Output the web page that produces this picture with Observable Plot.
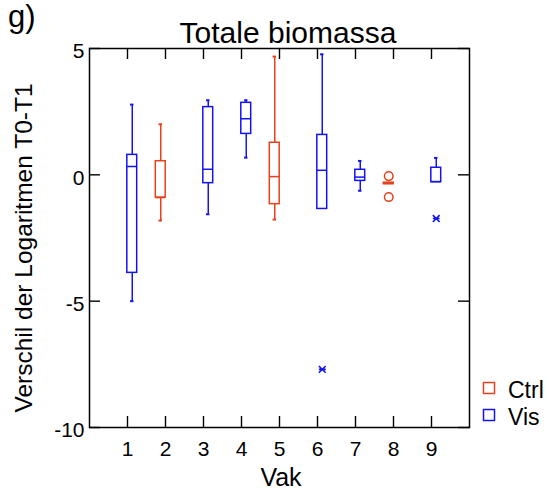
<!DOCTYPE html>
<html>
<head>
<meta charset="utf-8">
<script src="https://cdn.jsdelivr.net/npm/d3@7"></script>
<script src="https://cdn.jsdelivr.net/npm/@observablehq/plot@0.6"></script>
<style>
  html, body { margin: 0; padding: 0; background: #fff; }
  #chart svg { display: block; font-family: "Liberation Sans", Arial, sans-serif; }
</style>
</head>
<body>
<div id="chart"></div>
<script>
// ---- data ----
const vak         = [1, 2, 3, 4, 5, 6, 7, 8, 9];
const group       = ["Vis", "Ctrl", "Vis", "Vis", "Ctrl", "Vis", "Vis", "Ctrl", "Vis"];
const whiskerLow  = [-5.00, -1.81, -1.56, 0.68, -1.77, -1.35, -0.63, -0.37, -0.29];
const q1          = [-3.88, -0.90, -0.33, 1.62, -1.16, -1.35, -0.24, -0.37, -0.29];
const median      = [ 0.33, -0.90,  0.22, 2.22, -0.07,  0.18, -0.09, -0.34, -0.27];
const q3          = [ 0.79,  0.54,  2.68, 2.85,  1.27,  1.58,  0.20, -0.31,  0.28];
const whiskerHigh = [ 2.78,  2.00,  2.95, 2.95,  4.68,  4.77,  0.55, -0.31,  0.67];

const outlierVak   = [6, 8, 8, 9];
const outlierGroup = ["Vis", "Ctrl", "Ctrl", "Vis"];
const outlierValue = [-7.70, -0.05, -0.88, -1.73];

const yTicks = [-10, -5, 0, 5];
const xTicks = [1, 2, 3, 4, 5, 6, 7, 8, 9];
const legendLabels = ["Ctrl", "Vis"];
const groupColors = {Ctrl: "#e8401c", Vis: "#1414f0"};

const title = "Totale biomassa";
const panelLabel = "g)";
const xLabel = "Vak";
const yLabel = "Verschil der Logaritmen T0-T1";

// ---- build table ----
const offset = {Ctrl: -0.125, Vis: 0.125};
const halfBox = 0.13, halfCap = 0.045;
const boxes = vak.map((v, i) => ({
  vak: v, group: group[i], xc: v + offset[group[i]],
  lo: whiskerLow[i], q1: q1[i], med: median[i], q3: q3[i], hi: whiskerHigh[i]
}));
const outliers = outlierVak.map((v, i) => ({
  vak: v, group: outlierGroup[i], xc: v + offset[outlierGroup[i]], value: outlierValue[i]
}));

// star symbol: X with a horizontal bar
const starSymbol = {
  draw(ctx, size) {
    const r = Math.sqrt(size / Math.PI);
    ctx.moveTo(-r, -r); ctx.lineTo(r, r);
    ctx.moveTo(-r, r); ctx.lineTo(r, -r);
    ctx.moveTo(-r, 0); ctx.lineTo(r, 0);
  }
};

const W = 549, H = 493;
const mL = 89, mR = 80, mT = 48, mB = 66;
const pw = W - mL - mR, ph = H - mT - mB;
const tickLen = 11;
const col = d => groupColors[d.group];

const chart = Plot.plot({
  width: W, height: H,
  marginLeft: mL, marginRight: mR, marginTop: mT, marginBottom: mB,
  style: {fontFamily: "Liberation Sans, Arial, sans-serif", background: "#fff", fontSize: "21px"},
  x: {domain: [0, 10], axis: null},
  y: {domain: [-10, 5], axis: null},
  marks: [
    // inward ticks on four sides
    Plot.ruleY(yTicks, {y: d => d, insetRight: pw - tickLen, stroke: "#000", strokeWidth: 1.4}),
    Plot.ruleY(yTicks, {y: d => d, insetLeft: pw - tickLen, stroke: "#000", strokeWidth: 1.4}),
    Plot.ruleX(xTicks, {x: d => d, insetBottom: ph - tickLen, stroke: "#000", strokeWidth: 1.4}),
    Plot.ruleX(xTicks, {x: d => d, insetTop: ph - tickLen, stroke: "#000", strokeWidth: 1.4}),
    Plot.frame({stroke: "#000", strokeWidth: 1.5}),
    // tick labels
    Plot.axisY(yTicks, {tickSize: 0, tickPadding: 5, fontSize: 21, dy: 3, label: null, tickFormat: d => String(d), fill: "#000"}),
    Plot.axisX(xTicks, {tickSize: 0, tickPadding: 14, fontSize: 21, label: null, tickFormat: d => String(d), fill: "#000"}),
    // whiskers
    Plot.ruleX(boxes.filter(d => d.hi > d.q3), {x: "xc", y1: "q3", y2: "hi", stroke: col, strokeWidth: 1.5}),
    Plot.ruleX(boxes.filter(d => d.lo < d.q1), {x: "xc", y1: "lo", y2: "q1", stroke: col, strokeWidth: 1.5}),
    Plot.ruleY(boxes.filter(d => d.hi > d.q3), {y: "hi", x1: d => d.xc - halfCap, x2: d => d.xc + halfCap, stroke: col, strokeWidth: 2}),
    Plot.ruleY(boxes.filter(d => d.lo < d.q1), {y: "lo", x1: d => d.xc - halfCap, x2: d => d.xc + halfCap, stroke: col, strokeWidth: 2}),
    // boxes
    Plot.rect(boxes, {x1: d => d.xc - halfBox, x2: d => d.xc + halfBox, y1: "q1", y2: "q3", fill: "none", stroke: col, strokeWidth: 1.5}),
    // medians
    Plot.ruleY(boxes, {y: "med", x1: d => d.xc - halfBox, x2: d => d.xc + halfBox, stroke: col, strokeWidth: 1.5}),
    // outliers
    Plot.dot(outliers.filter(d => d.group === "Ctrl"), {x: "xc", y: "value", r: 4.3, symbol: "circle", fill: "none", stroke: col, strokeWidth: 1.5}),
    Plot.dot(outliers.filter(d => d.group === "Vis"), {x: "xc", y: "value", r: 3.4, symbol: starSymbol, fill: "none", stroke: col, strokeWidth: 1.6})
  ]
});

// annotations
const svg = d3.select(chart);
const font = "Liberation Sans, Arial, sans-serif";
svg.append("text").attr("x", 8).attr("y", 27).attr("text-anchor", "start").attr("font-size", 31).attr("font-family", font).attr("fill", "#000").text(panelLabel);
svg.append("text").attr("x", 288).attr("y", 43).attr("text-anchor", "middle").attr("font-size", 30).attr("font-family", font).attr("fill", "#000").text(title);
svg.append("text").attr("x", mL + pw / 2 + 2).attr("y", 486).attr("text-anchor", "middle").attr("font-size", 25).attr("font-family", font).attr("fill", "#000").text(xLabel);
svg.append("text").attr("transform", "translate(32,248) rotate(-90)").attr("text-anchor", "middle").attr("font-size", 24.5).attr("font-family", font).attr("fill", "#000").text(yLabel);

const lg = svg.append("g");
legendLabels.forEach((lab, i) => {
  const y0 = 382 + i * 27;
  lg.append("rect").attr("x", 483.5).attr("y", y0 + 0.5).attr("width", 11).attr("height", 11)
    .attr("fill", "none").attr("stroke", groupColors[lab]).attr("stroke-width", 1.5);
  lg.append("text").attr("x", 508).attr("y", y0 + 16).attr("text-anchor", "start").attr("font-size", 23).attr("font-family", font).attr("fill", "#000").text(lab);
});

document.getElementById("chart").appendChild(chart);
</script>
</body>
</html>
